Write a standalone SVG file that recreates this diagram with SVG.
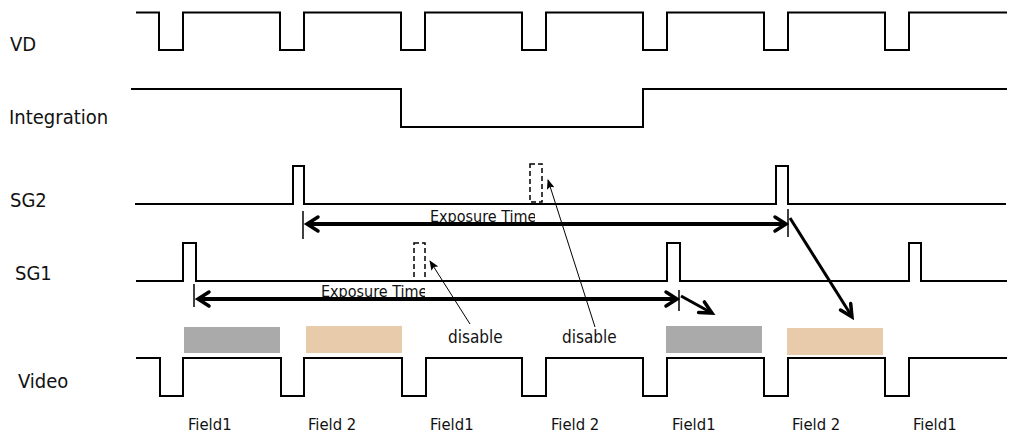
<svg xmlns="http://www.w3.org/2000/svg" width="1021" height="438" viewBox="0 0 1021 438">
<style>
.sig{fill:none;stroke:#000;stroke-width:2;stroke-linejoin:miter}
.lbl{font-family:"DejaVu Sans Condensed","Open Sans",sans-serif;font-size:20px;fill:#111}
.fld{font-family:"DejaVu Sans Condensed","Open Sans",sans-serif;font-size:16.5px;fill:#111}
.exp{font-family:"DejaVu Sans Condensed","Open Sans",sans-serif;font-size:16px;fill:#111}
.dis{font-family:"DejaVu Sans Condensed","Open Sans",sans-serif;font-size:17px;fill:#111}
.dash{fill:none;stroke:#000;stroke-width:1.5;stroke-dasharray:5,3}
.thick{fill:none;stroke:#000;stroke-width:4}
.head{fill:none;stroke:#000;stroke-width:3.5;stroke-linecap:round;stroke-linejoin:miter}
.diag{fill:none;stroke:#000;stroke-width:3}
.tick{stroke:#000;stroke-width:1.5}
.thin{fill:none;stroke:#000;stroke-width:1;marker-end:url(#ah)}
.gray{fill:#A9AAA9}
.tan{fill:#E8CBAB}
</style>
<defs>
<marker id="ah" markerWidth="10" markerHeight="8" refX="9" refY="4" orient="auto" markerUnits="userSpaceOnUse">
<path d="M0,0 L10,4 L0,8 L2,4 Z" fill="#000"/>
</marker>
<clipPath id="c2"><rect x="400" y="200" width="135" height="30"/></clipPath>
<clipPath id="c1"><rect x="300" y="275" width="125" height="30"/></clipPath>
</defs>

<g id="labels">
<text class="lbl" x="10" y="51">VD</text>
<text class="lbl" x="9" y="124">Integration</text>
<text class="lbl" x="10" y="207">SG2</text>
<text class="lbl" x="15" y="280">SG1</text>
<text class="lbl" x="18" y="388">Video</text>
</g>

<g id="vd">
<path class="sig" d="M136,12.5 H159 V50 H183 V12.5 H280 V50 H304 V12.5 H401 V50 H425 V12.5 H522 V50 H546 V12.5 H643 V50 H667 V12.5 H764 V50 H788 V12.5 H885 V50 H909 V12.5 H1007"/>
</g>

<g id="integration">
<path class="sig" d="M131,89 H401 V127 H643 V89 H1007"/>
</g>

<g id="sg2">
<path class="sig" d="M135,204 H293 V166 H304 V204 H776 V166 H788 V204 H1006"/>
<rect id="sg2-disabled" class="dash" x="530" y="164" width="12" height="38"/>
</g>

<g id="sg1">
<path class="sig" d="M136,281 H183 V243 H196 V281 H667 V243 H680 V281 H909 V243 H921 V281 H1007"/>
<rect id="sg1-disabled" class="dash" x="414" y="243" width="11" height="38"/>
</g>

<g id="video">
<rect class="gray" x="184" y="327" width="96" height="26"/>
<rect class="tan" x="306" y="326" width="96" height="27"/>
<rect class="gray" x="666" y="326" width="96" height="27"/>
<rect class="tan" x="787" y="328" width="96" height="27"/>
<path class="sig" d="M136,358 H160 V396 H183 V358 H281 V396 H304 V358 H402 V396 H426 V358 H522 V396 H546 V358 H643 V396 H667 V358 H764 V396 H788 V358 H885 V396 H909 V358 H1007"/>
</g>

<g id="fields">
<text class="fld" x="188" y="430">Field1</text>
<text class="fld" x="308" y="430">Field 2</text>
<text class="fld" x="430" y="430">Field1</text>
<text class="fld" x="551" y="430">Field 2</text>
<text class="fld" x="672" y="430">Field1</text>
<text class="fld" x="792" y="430">Field 2</text>
<text class="fld" x="913" y="430">Field1</text>
</g>

<g id="exposure-sg2">
<text class="exp" x="430" y="222" clip-path="url(#c2)">Exposure Time</text>
<line class="tick" x1="303" y1="211" x2="303" y2="239"/>
<line class="tick" x1="788" y1="209" x2="788" y2="237"/>
<line class="thick" x1="308" y1="224" x2="784" y2="224"/>
<path class="head" d="M318,217 L307,224 L318,231"/>
<path class="head" d="M775,217 L786,224 L775,231"/>
</g>

<g id="exposure-sg1">
<text class="exp" x="321" y="297" clip-path="url(#c1)">Exposure Time</text>
<line class="tick" x1="194" y1="284" x2="194" y2="307"/>
<line class="tick" x1="679" y1="290" x2="679" y2="311"/>
<line class="thick" x1="199" y1="299" x2="675" y2="299"/>
<path class="head" d="M209,292 L198,299 L209,306"/>
<path class="head" d="M666,292 L677,299 L666,306"/>
</g>

<g id="connectors">
<line class="diag" x1="790" y1="218" x2="851" y2="315"/>
<path class="head" d="M840.5,310 L852,317 L850.7,303.6"/>
<line class="diag" x1="681" y1="296" x2="710" y2="312"/>
<path class="head" d="M698.6,312.5 L712,313 L704.4,301.9"/>
<line class="thin" x1="470" y1="324" x2="430" y2="261"/>
<line class="thin" x1="595" y1="327" x2="548" y2="180"/>
</g>

<g id="disable-labels">
<text class="dis" x="448" y="343">disable</text>
<text class="dis" x="562" y="343">disable</text>
</g>
</svg>
